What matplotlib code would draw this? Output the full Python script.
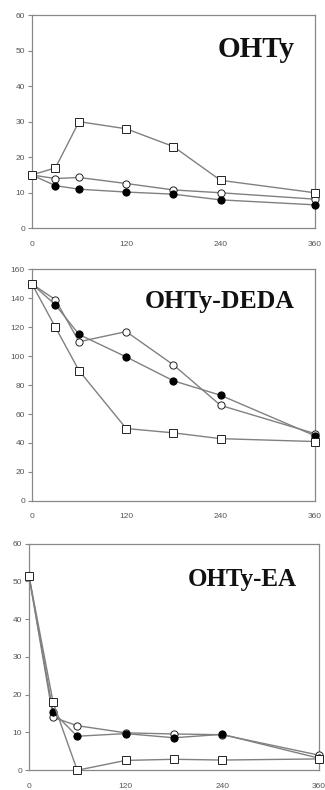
import matplotlib
matplotlib.use("Agg")
import matplotlib.pyplot as plt

# sampling times (min)
t = [0, 30, 60, 120, 180, 240, 360]

# OHTy
ohty_sq = [15, 17, 30, 28, 23, 13.5, 10]
ohty_open = [15, 14, 14.3, 12.6, 10.8, 10, 8.2]
ohty_fill = [15, 12, 11, 10.2, 9.6, 8, 6.6]

# OHTy-DEDA
deda_sq = [150, 120, 90, 50, 47, 43, 41]
deda_open = [150, 139, 110, 117, 94, 66, 46.5]
deda_fill = [150, 135.5, 115, 99.5, 83, 73, 45]

# OHTy-EA
ea_sq = [51.5, 18, 0, 2.6, 2.9, 2.7, 3]
ea_open = [51.5, 14, 11.8, 9.9, 9.6, 9.4, 4]
ea_fill = [51.5, 15.4, 9, 9.7, 8.6, 9.5, 3.2]

titles = ["OHTy", "OHTy-DEDA", "OHTy-EA"]
title_sizes = [21, 18.5, 18]
series = [(ohty_sq, ohty_open, ohty_fill),
          (deda_sq, deda_open, deda_fill),
          (ea_sq, ea_open, ea_fill)]
ylims = [(60, 10), (160, 20), (60, 10)]

# axes boxes in figure fractions: left, bottom, width, height
boxes = [(0.098, 0.711, 0.871, 0.270),
         (0.098, 0.366, 0.871, 0.293),
         (0.089, 0.025, 0.892, 0.287)]
title_pos = [(0.93, 0.836), (0.93, 0.86), (0.925, 0.841)]

line_col = "#808080"
edge_col = "#222222"
axis_col = "#888888"

fig = plt.figure(figsize=(3.25, 7.9), dpi=100)

for box, (sq, op, fi), (ymax, ystep), title, fs, tp in zip(boxes, series, ylims, titles,
                                                          title_sizes, title_pos):
    ax = fig.add_axes(box)
    ax.plot(t, op, "-o", color=line_col, lw=1.0, ms=5.2, mfc="white", mec=edge_col, mew=0.7, zorder=3)
    ax.plot(t, fi, "-o", color=line_col, lw=1.0, ms=5.2, mfc="black", mec="black", mew=0.7, zorder=4)
    ax.plot(t, sq, "-s", color=line_col, lw=1.0, ms=5.2, mfc="white", mec=edge_col, mew=0.7, zorder=5)
    ax.set_xlim(0, 360)
    ax.set_ylim(0, ymax)
    ax.set_xticks([0, 120, 240, 360])
    ax.set_yticks(range(0, ymax + 1, ystep))
    ax.tick_params(axis="y", direction="out", length=3, width=0.8, color=axis_col,
                   labelsize=6, labelcolor="#555555", pad=2)
    ax.tick_params(axis="x", length=0, labelsize=6, labelcolor="#555555", pad=9)
    for lab in ax.get_xticklabels() + ax.get_yticklabels():
        lab.set_fontfamily("Liberation Sans")
    for sp in ax.spines.values():
        sp.set_color(axis_col)
        sp.set_linewidth(0.9)
    ax.text(tp[0], tp[1], title, transform=ax.transAxes, ha="right", va="center",
            fontsize=fs, fontfamily="Liberation Serif", fontweight="bold", color="#111111")
    for ln in ax.lines:
        ln.set_clip_on(False)

fig.savefig("out.png", dpi=100)
